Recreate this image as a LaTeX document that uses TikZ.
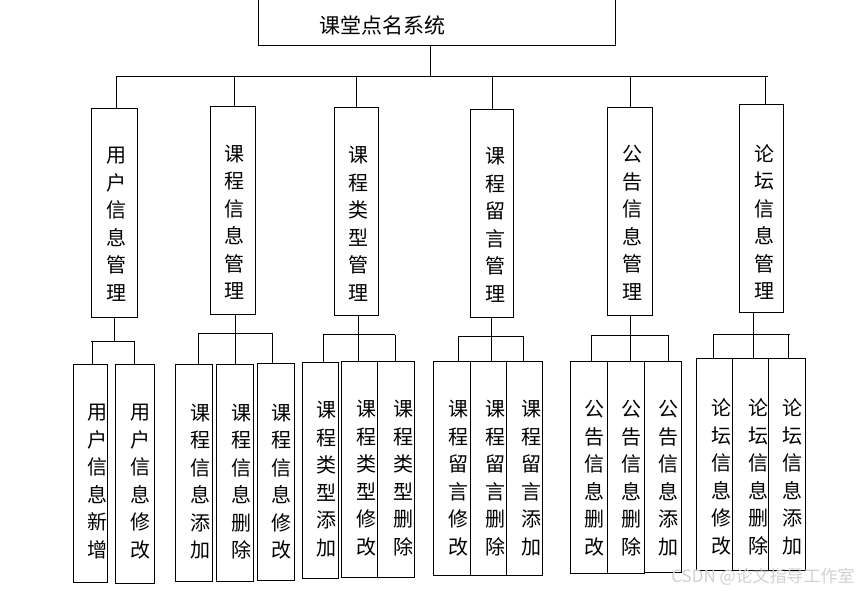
\documentclass[tikz,border=0pt]{standalone}
\usepackage{fontspec}
\newfontfamily\cjk{Noto Sans CJK SC}
\begin{document}
\begin{tikzpicture}[x=1pt,y=-1pt,
  box/.style={draw, line width=1pt, inner sep=0pt, rectangle},
  vt/.style={font=\cjk\fontsize{20}{27.5}\selectfont, align=center, inner sep=0pt},
  ln/.style={line width=1pt}]
\useasboundingbox (0,0) rectangle (857,590);
\clip (0,0) rectangle (857,590);
\fill[white] (0,0) rectangle (857,590);
% top
\node[box, minimum width=357pt, minimum height=50pt] (top) at (436.5,20) {};
\node[font=\cjk\fontsize{21}{21}\selectfont, inner sep=0pt] (title) at (382,25) {课堂点名系统};
% second level
\node[box, minimum width=46pt, minimum height=209pt] (u) at (114.3,212.8) {};
\node[vt] (ut) at (116.7,224.4) {用\\户\\信\\息\\管\\理};
\node[box, minimum width=45pt, minimum height=207.3pt] (ci) at (232.8,210.4) {};
\node[vt] (cit) at (234.5,222.5) {课\\程\\信\\息\\管\\理};
\node[box, minimum width=44pt, minimum height=207.7pt] (ct) at (356.3,211.2) {};
\node[vt] (ctt) at (358.5,224) {课\\程\\类\\型\\管\\理};
\node[box, minimum width=43pt, minimum height=208pt] (cl) at (491.8,213.3) {};
\node[vt] (clt) at (495,225) {课\\程\\留\\言\\管\\理};
\node[box, minimum width=45pt, minimum height=208pt] (gg) at (629.8,211.3) {};
\node[vt] (ggt) at (632,223) {公\\告\\信\\息\\管\\理};
\node[box, minimum width=44pt, minimum height=208pt] (lt) at (761.3,208.3) {};
\node[vt] (ltt) at (764,222) {论\\坛\\信\\息\\管\\理};
% top connectors
\coordinate (tj) at (430,76);
\draw[ln] (tj |- top.south) -- (tj);
\coordinate (bl) at (116,76);
\coordinate (br) at (768,76);
\draw[ln] (bl) -- (br);
\coordinate (s1) at (116.3,76);
\coordinate (s2) at (234.7,76);
\coordinate (s3) at (356.7,76);
\coordinate (s4) at (492.3,76);
\coordinate (s5) at (630.3,76);
\coordinate (s6) at (765.3,76);
\draw[ln] (s1) -- (s1 |- u.north);
\draw[ln] (s2) -- (s2 |- ci.north);
\draw[ln] (s3) -- (s3 |- ct.north);
\draw[ln] (s4) -- (s4 |- cl.north);
\draw[ln] (s5) -- (s5 |- gg.north);
\draw[ln] (s6) -- (s6 |- lt.north);
% third level boxes
\node[box, minimum width=34pt, minimum height=218pt] (A) at (90.3,473.3) {};
\node[vt] (At) at (97,481.5) {用\\户\\信\\息\\新\\增};
\node[box, minimum width=39pt, minimum height=219pt] (B) at (134.8,473.8) {};
\node[vt] (Bt) at (140,481.5) {用\\户\\信\\息\\修\\改};
\node[box, minimum width=36.6pt, minimum height=216.7pt] (C) at (194,472.7) {};
\node[vt] (Ct) at (200,481.5) {课\\程\\信\\息\\添\\加};
\node[box, minimum width=36.6pt, minimum height=217pt] (D) at (235,472.8) {};
\node[vt] (Dt) at (241.7,481.5) {课\\程\\信\\息\\删\\除};
\node[box, minimum width=36.6pt, minimum height=216.7pt] (E) at (276,471.7) {};
\node[vt] (Et) at (281.7,481.5) {课\\程\\信\\息\\修\\改};
\node[box, minimum width=36pt, minimum height=216pt] (F) at (320.3,470.3) {};
\node[vt] (Ft) at (326.7,479) {课\\程\\类\\型\\添\\加};
\node[box, minimum width=35.6pt, minimum height=216pt] (G) at (359.5,469.7) {};
\node[vt] (Gt) at (366.7,478.3) {课\\程\\类\\型\\修\\改};
\node[box, minimum width=37pt, minimum height=216pt] (H) at (395.8,469.7) {};
\node[vt] (Ht) at (403.3,478.3) {课\\程\\类\\型\\删\\除};
\node[box, minimum width=37pt, minimum height=214pt] (I) at (451.8,468.3) {};
\node[vt] (It) at (458.3,478.3) {课\\程\\留\\言\\修\\改};
\node[box, minimum width=36.4pt, minimum height=214pt] (J) at (488.5,468.3) {};
\node[vt] (Jt) at (495,478.3) {课\\程\\留\\言\\删\\除};
\node[box, minimum width=35.6pt, minimum height=214pt] (K) at (524.5,468.3) {};
\node[vt] (Kt) at (531.7,478.3) {课\\程\\留\\言\\添\\加};
\node[box, minimum width=37pt, minimum height=212pt] (L) at (588.8,467.3) {};
\node[vt] (Lt) at (594.3,478.3) {公\\告\\信\\息\\删\\改};
\node[box, minimum width=37pt, minimum height=212pt] (M) at (625.8,467.3) {};
\node[vt] (Mt) at (631.7,478.3) {公\\告\\信\\息\\删\\除};
\node[box, minimum width=37pt, minimum height=211pt] (N) at (662.8,466.8) {};
\node[vt] (Nt) at (668.3,478.3) {公\\告\\信\\息\\添\\加};
\node[box, minimum width=35.6pt, minimum height=212.4pt] (O) at (714.5,464.5) {};
\node[vt] (Ot) at (721,477) {论\\坛\\信\\息\\修\\改};
\node[box, minimum width=36.4pt, minimum height=212.4pt] (P) at (750.5,464.5) {};
\node[vt] (Pt) at (758.3,477) {论\\坛\\信\\息\\删\\除};
\node[box, minimum width=37pt, minimum height=212.4pt] (Q) at (787.2,464.5) {};
\node[vt] (Qt) at (792.7,477) {论\\坛\\信\\息\\添\\加};
% group 1
\coordinate (g1s) at (114.7,341.3);
\coordinate (g1l) at (90.7,341.3);
\coordinate (g1r) at (134.3,341.3);
\coordinate (g1a) at (92.3,341.3);
\draw[ln] (g1s |- u.south) -- (g1s);
\draw[ln] (g1l) -- (g1r);
\draw[ln] (g1a) -- (g1a |- A.north);
\draw[ln] (g1r) -- (g1r |- B.north);
% group 2
\coordinate (g2s) at (235.3,333.3);
\coordinate (g2l) at (198.7,333.3);
\coordinate (g2r) at (272,333.3);
\draw[ln] (g2s |- ci.south) -- (g2s |- D.north);
\draw[ln] (g2l) -- (g2r);
\draw[ln] (g2l) -- (g2l |- C.north);
\draw[ln] (g2r) -- (g2r |- E.north);
% group 3
\coordinate (g3s) at (358.7,334.7);
\coordinate (g3l) at (323.3,334.7);
\coordinate (g3r) at (395.3,334.7);
\draw[ln] (g3s |- ct.south) -- (g3s |- G.north);
\draw[ln] (g3l) -- (g3r);
\draw[ln] (g3l) -- (g3l |- F.north);
\draw[ln] (g3r) -- (g3r |- H.north);
% group 4
\coordinate (g4s) at (491.7,336.3);
\coordinate (g4l) at (458.7,336.3);
\coordinate (g4r) at (523.3,336.3);
\draw[ln] (g4s |- cl.south) -- (g4s |- J.north);
\draw[ln] (g4l) -- (g4r);
\draw[ln] (g4l) -- (g4l |- I.north);
\draw[ln] (g4r) -- (g4r |- K.north);
% group 5
\coordinate (g5s) at (630.3,335.3);
\coordinate (g5l) at (591,335.3);
\coordinate (g5r) at (668.7,335.3);
\draw[ln] (g5s |- gg.south) -- (g5s |- M.north);
\draw[ln] (g5l) -- (g5r);
\draw[ln] (g5l) -- (g5l |- L.north);
\draw[ln] (g5r) -- (g5r |- N.north);
% group 6
\coordinate (g6s) at (753.3,334.3);
\coordinate (g6l) at (713.7,334.3);
\coordinate (g6r) at (789.7,334.3);
\coordinate (g6q) at (788.7,334.3);
\draw[ln] (g6s |- lt.south) -- (g6s |- P.north);
\draw[ln] (g6l) -- (g6r);
\draw[ln] (g6l) -- (g6l |- O.north);
\draw[ln] (g6q) -- (g6q |- Q.north);
% watermark
\node[font=\cjk\fontsize{17}{17}\selectfont, text=black!18, inner sep=0pt] (wm) at (763,577) {CSDN @论文指导工作室};
\end{tikzpicture}
\end{document}
